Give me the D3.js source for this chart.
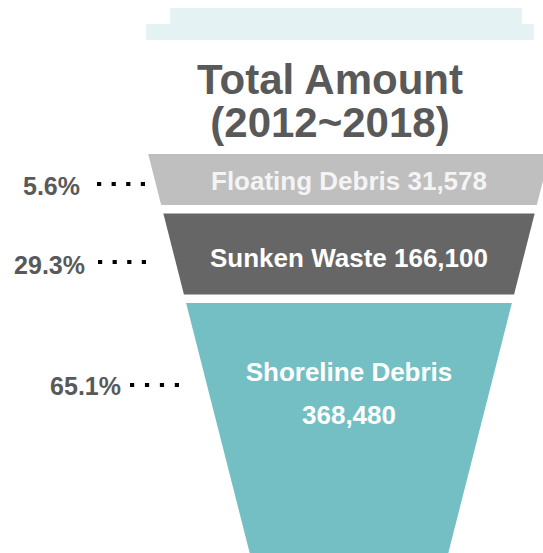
<!DOCTYPE html>
<html>
<head>
<meta charset="utf-8">
<script src="https://cdn.jsdelivr.net/npm/d3@7/dist/d3.min.js"></script>
<style>
  body { margin: 0; background: #fff; }
  svg text { font-family: "Liberation Sans", Arial, sans-serif; font-weight: bold; }
</style>
</head>
<body>
<div id="chart"></div>
<script>
// Data
var categories = ["Floating Debris", "Sunken Waste", "Shoreline Debris"],
	amounts = [31578, 166100, 368480],
	shares = [5.6, 29.3, 65.1],
	titleLines = ["Total Amount", "(2012~2018)"],
	segColors = ["#bfbfbf", "#666666", "#74bfc4"];

var width = 543,
	height = 553,
	svg = d3.select("#chart")
	.append("svg")
	.attr("width", width)
	.attr("height", height),
	cx = 349,
	funnelTop = 154,
	gap = 8.5;

// segment heights per category (not proportional in the original)
var segH = d3.scaleOrdinal()
	.domain(categories)
	.range([51, 81, 250]);

// funnel half width shrinks linearly with y
var half = d3.scaleLinear()
	.domain([154, 553])
	.range([200.8, 99.3]);

var fmt = d3.format(","),
	pct = function(v) { return d3.format(".1f")(v) + "%"; };

// build rows
var rows = [], y = funnelTop;
categories.forEach(function(c, i) {
	rows.push({cat: c, amount: amounts[i], share: shares[i], color: segColors[i], y0: y, y1: y + segH(c)});
	y += segH(c) + gap;
});

// header block (light tab)
svg.append("path")
	.attr("d", "M170,8H522V24H534V40H146V24H170Z")
	.attr("fill", "#e5f2f3");

// title
svg.selectAll(".title")
	.data(titleLines)
	.enter()
	.append("text")
	.attr("class", "title")
	.attr("x", 330)
	.attr("y", function(d, i) { return 94 + i * 43; })
	.attr("text-anchor", "middle")
	.attr("font-size", 42)
	.attr("fill", "#595959")
	.text(function(d) { return d; });

// funnel segments
svg.selectAll(".seg")
	.data(rows)
	.enter()
	.append("path")
	.attr("class", "seg")
	.attr("fill", function(d) { return d.color; })
	.attr("d", function(d) {
		return "M" + (cx - half(d.y0)) + "," + d.y0 +
			"L" + (cx + half(d.y0)) + "," + d.y0 +
			"L" + (cx + half(d.y1)) + "," + d.y1 +
			"L" + (cx - half(d.y1)) + "," + d.y1 + "Z";
	});

// labels inside segments
var labelLayout = [[190], [267], [381], [424]];
rows.forEach(function(r, i) {
	var lines = i < 2 ? [r.cat + " " + fmt(r.amount)] : [r.cat, fmt(r.amount)];
	lines.forEach(function(t, j) {
		svg.append("text")
			.attr("x", cx)
			.attr("y", labelLayout[i + j][0])
			.attr("text-anchor", "middle")
			.attr("font-size", 26)
			.attr("fill", i == 0 ? "#f4f4f4" : "#ffffff")
			.text(t);
	});
});

// percentages with dotted leaders
var pctLayout = [
	{tx: 80, ty: 195, x1: 97, x2: 145, dy: 184},
	{tx: 85, ty: 274, x1: 98, x2: 146, dy: 262},
	{tx: 121, ty: 395, x1: 130, x2: 179, dy: 385}
];
rows.forEach(function(r, i) {
	var p = pctLayout[i];
	svg.append("text")
		.attr("x", p.tx)
		.attr("y", p.ty)
		.attr("text-anchor", "end")
		.attr("font-size", 25)
		.attr("fill", "#595959")
		.text(pct(r.share));
	svg.append("line")
		.attr("x1", p.x1)
		.attr("x2", p.x2)
		.attr("y1", p.dy)
		.attr("y2", p.dy)
		.attr("stroke", "#000")
		.attr("stroke-width", 4.2)
		.attr("stroke-dasharray", "4.2," + ((p.x2 - p.x1 - 4 * 4.2) / 3));
});
</script>
</body>
</html>
